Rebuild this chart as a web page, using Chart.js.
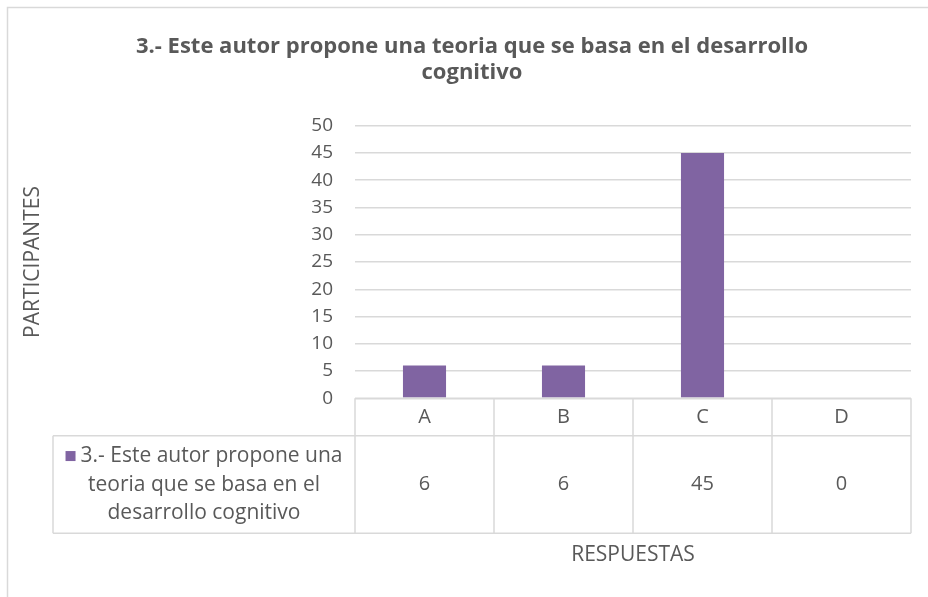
<!DOCTYPE html>
<html>
<head>
<meta charset="utf-8">
<script src="https://cdn.jsdelivr.net/npm/chart.js@4/dist/chart.umd.min.js"></script>
<style>
  html, body { margin: 0; padding: 0; background: #ffffff; }
  #wrap { width: 928px; height: 597px; }
</style>
</head>
<body>
<div id="wrap"><canvas id="c" width="928" height="597"></canvas></div>
<script>
// ---- data ----
const categories = ["A", "B", "C", "D"];
const values = [6, 6, 45, 0];
const seriesName = "3.- Este autor propone una teoria que se basa en el desarrollo cognitivo";
const seriesLegendLines = ["3.- Este autor propone una", "teoria que se basa en el", "desarrollo cognitivo"];
const titleLines = ["3.- Este autor propone una teoria que se basa en el desarrollo", "cognitivo"];
const yAxisTitle = "PARTICIPANTES";
const xAxisTitle = "RESPUESTAS";
const yMin = 0, yMax = 50, yStep = 5;

// ---- styles ----
const FONT = "'Open Sans', 'Noto Sans', sans-serif";
const TEXT = "#595959";
const LINE = "#d9d9d9";
const BAR = "#8064a2";

const overlay = {
  id: "overlay",
  beforeDraw(chart) {
    const ctx = chart.ctx;
    ctx.save();
    ctx.fillStyle = "#ffffff";
    ctx.fillRect(0, 0, chart.width, chart.height);
    // outer frame (top + left visible)
    ctx.strokeStyle = LINE;
    ctx.lineWidth = 1.5;
    ctx.beginPath();
    ctx.moveTo(7.5, chart.height);
    ctx.lineTo(7.5, 7.5);
    ctx.lineTo(chart.width, 7.5);
    ctx.stroke();
    ctx.restore();
  },
  afterDraw(chart) {
    const ctx = chart.ctx;
    const xs = chart.scales.x;
    const ys = chart.scales.y;
    const area = chart.chartArea;
    ctx.save();

    // title
    ctx.fillStyle = TEXT;
    ctx.textAlign = "center";
    ctx.textBaseline = "middle";
    ctx.font = "bold 22px " + FONT;
    titleLines.forEach((t, i) => ctx.fillText(t, 472, 47 + i * 26));

    // y axis title
    ctx.font = "21px " + FONT;
    ctx.save();
    ctx.translate(33, (area.top + area.bottom) / 2);
    ctx.rotate(-Math.PI / 2);
    ctx.fillText(yAxisTitle, 0, 0);
    ctx.restore();

    // data table
    const top = ys.getPixelForValue(yMin);
    const headBottom = top + 37.5;
    const bottom = headBottom + 97.5;
    const legLeft = 53;
    const bounds = [area.left];
    for (let i = 0; i < categories.length - 1; i++) {
      bounds.push((xs.getPixelForValue(i) + xs.getPixelForValue(i + 1)) / 2);
    }
    bounds.push(area.right);

    ctx.strokeStyle = LINE;
    ctx.lineWidth = 1.5;
    ctx.beginPath();
    ctx.moveTo(area.left, top); ctx.lineTo(area.right, top);
    ctx.moveTo(legLeft, headBottom); ctx.lineTo(area.right, headBottom);
    ctx.moveTo(legLeft, bottom); ctx.lineTo(area.right, bottom);
    ctx.moveTo(legLeft, headBottom); ctx.lineTo(legLeft, bottom);
    bounds.forEach(b => { ctx.moveTo(b, top); ctx.lineTo(b, bottom); });
    ctx.stroke();

    ctx.fillStyle = TEXT;
    ctx.font = "20px " + FONT;
    categories.forEach((c, i) => {
      const cx = xs.getPixelForValue(i);
      ctx.fillText(c, cx, (top + headBottom) / 2);
      ctx.fillText(String(values[i]), cx, (headBottom + bottom) / 2);
    });

    // legend cell
    ctx.font = "21px " + FONT;
    const cellCx = (legLeft + area.left) / 2;
    const midY = (headBottom + bottom) / 2;
    const lh = 28.5;
    seriesLegendLines.forEach((t, i) => {
      const y = midY + (i - 1) * lh;
      if (i === 0) {
        const w = ctx.measureText(t).width;
        const sq = 10, gap = 5;
        const total = sq + gap + w;
        const x0 = cellCx - total / 2;
        ctx.fillStyle = BAR;
        ctx.fillRect(x0, y - sq / 2, sq, sq);
        ctx.fillStyle = TEXT;
        ctx.textAlign = "left";
        ctx.fillText(t, x0 + sq + gap, y);
        ctx.textAlign = "center";
      } else {
        ctx.fillText(t, cellCx, y);
      }
    });

    // x axis title
    ctx.font = "21px " + FONT;
    ctx.fillText(xAxisTitle, (area.left + area.right) / 2, 555);

    ctx.restore();
  }
};

new Chart(document.getElementById("c"), {
  type: "bar",
  data: {
    labels: categories,
    datasets: [{
      label: seriesName,
      data: values,
      backgroundColor: BAR,
      borderWidth: 0,
      barPercentage: 0.31,
      categoryPercentage: 1.0
    }]
  },
  options: {
    responsive: false,
    animation: false,
    devicePixelRatio: 1,
    layout: { padding: { left: 0, right: 17, top: 125.7, bottom: 198.7 } },
    plugins: {
      legend: { display: false },
      title: { display: false },
      tooltip: { enabled: false }
    },
    scales: {
      x: {
        display: false,
        offset: true
      },
      y: {
        min: yMin,
        max: yMax,
        ticks: {
          stepSize: yStep,
          color: TEXT,
          font: { family: FONT, size: 19 },
          padding: 22
        },
        grid: { color: LINE, lineWidth: 1.5, drawTicks: false },
        border: { display: false },
        afterFit(scale) { scale.width = 355; }
      }
    }
  },
  plugins: [overlay]
});
</script>
</body>
</html>
